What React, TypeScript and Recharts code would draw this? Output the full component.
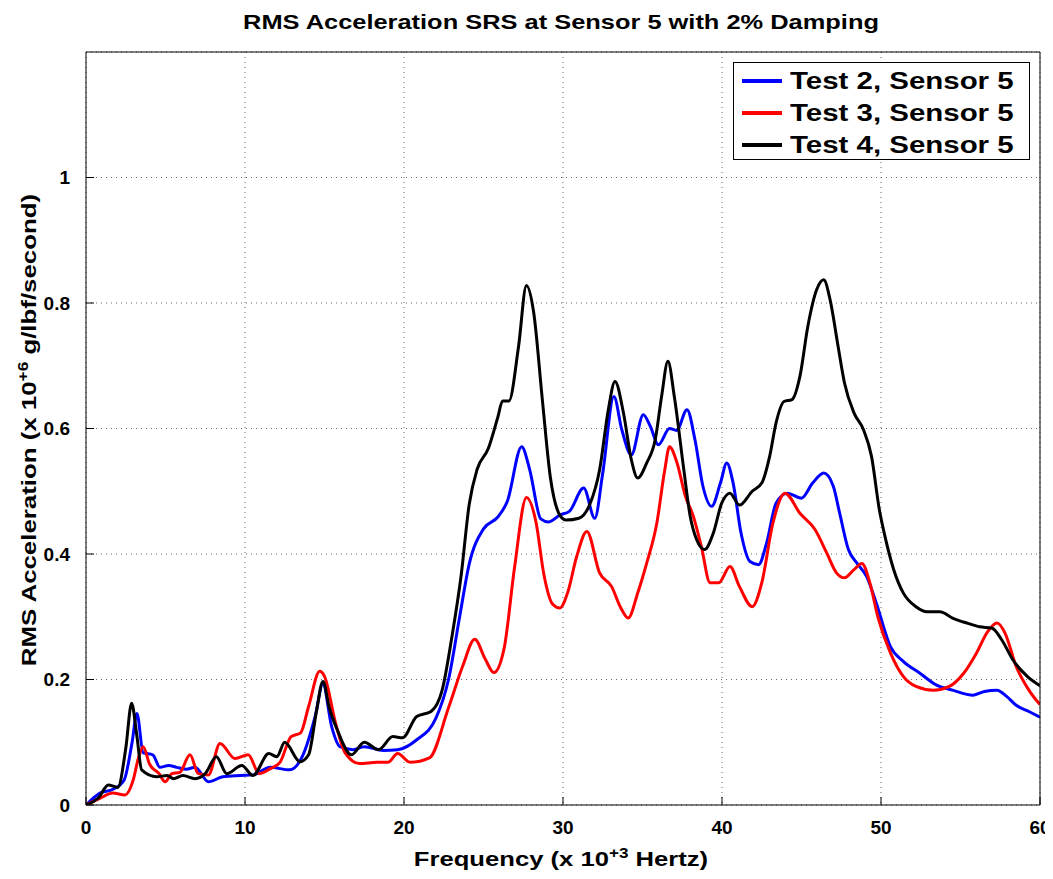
import React from "react";
import { CartesianGrid, Line, LineChart, XAxis, YAxis } from "recharts";

// frequency (kHz), RMS acceleration (x 10^6 g/lbf/s)
const test2: [number, number][] = [
  [0, 0], [0.88, 0.019], [1.7, 0.025], [2.4, 0.04], [2.9, 0.1], [3.2, 0.146], [3.6, 0.083],
  [4.2, 0.08], [4.65, 0.06], [5.2, 0.063], [5.7, 0.06], [6.3, 0.057], [6.86, 0.06], [7.7, 0.037],
  [8.6, 0.045], [9.7, 0.047], [10.5, 0.048], [11.6, 0.06], [12.8, 0.056], [13.6, 0.077], [14.4, 0.14],
  [14.9, 0.193], [15.45, 0.125], [15.97, 0.093], [16.8, 0.088], [17.5, 0.093], [18.7, 0.087],
  [19.6, 0.088], [20.8, 0.104], [22.0, 0.138], [22.8, 0.2], [23.5, 0.3], [24.1, 0.384], [25.0, 0.44],
  [25.9, 0.459], [26.5, 0.484], [27.4, 0.571], [27.9, 0.535], [28.6, 0.456], [29.1, 0.451],
  [29.8, 0.462], [30.4, 0.468], [31.3, 0.505], [32.0, 0.457], [32.5, 0.529], [33.2, 0.651],
  [33.7, 0.598], [34.3, 0.558], [35.05, 0.622], [35.5, 0.603], [36.0, 0.574], [36.7, 0.6],
  [37.15, 0.597], [37.8, 0.63], [38.3, 0.582], [38.8, 0.508], [39.35, 0.476], [39.9, 0.513],
  [40.3, 0.545], [40.7, 0.513], [41.2, 0.433], [41.76, 0.388], [42.3, 0.383], [42.8, 0.417],
  [43.4, 0.481], [44.1, 0.497], [45.0, 0.489], [45.7, 0.513], [46.4, 0.529], [47.0, 0.508],
  [47.4, 0.465], [47.95, 0.407], [48.5, 0.385], [49.1, 0.364], [49.7, 0.322], [50.6, 0.252],
  [51.4, 0.229], [52.45, 0.21], [53.5, 0.191], [54.5, 0.183], [55.8, 0.175], [56.5, 0.181],
  [57.3, 0.183], [57.9, 0.173], [58.5, 0.159], [59.3, 0.149], [60, 0.14],
];

const test3: [number, number][] = [
  [0, 0], [0.84, 0.01], [1.68, 0.019], [2.45, 0.016], [2.97, 0.04], [3.3, 0.075], [3.6, 0.093],
  [4.0, 0.065], [4.6, 0.05], [4.97, 0.037], [5.4, 0.05], [5.9, 0.052], [6.54, 0.08], [7.06, 0.05],
  [7.7, 0.048], [8.43, 0.098], [9.37, 0.074], [10.2, 0.08], [10.9, 0.05], [11.6, 0.058], [12.2, 0.068],
  [12.9, 0.109], [13.5, 0.115], [14.0, 0.157], [14.7, 0.213], [15.0, 0.205], [15.7, 0.13],
  [16.3, 0.083], [17.2, 0.066], [18.3, 0.068], [19.0, 0.068], [19.6, 0.082], [20.4, 0.068],
  [21.6, 0.075], [22.8, 0.155], [23.7, 0.222], [24.45, 0.264], [25.1, 0.233], [25.65, 0.211],
  [26.3, 0.25], [26.95, 0.378], [27.7, 0.49], [28.3, 0.451], [28.8, 0.367], [29.35, 0.32],
  [29.8, 0.314], [30.3, 0.339], [30.86, 0.396], [31.5, 0.436], [32.3, 0.37], [33.06, 0.348],
  [33.6, 0.316], [34.1, 0.298], [34.7, 0.338], [35.26, 0.385], [35.9, 0.449], [36.4, 0.534],
  [36.7, 0.571], [37.15, 0.547], [37.7, 0.492], [38.2, 0.46], [38.7, 0.412], [39.25, 0.354],
  [39.8, 0.354], [40.5, 0.38], [41.1, 0.348], [41.9, 0.316], [42.5, 0.354], [43.2, 0.449],
  [43.96, 0.497], [44.9, 0.465], [45.85, 0.439], [46.6, 0.401], [47.2, 0.37], [47.7, 0.362],
  [48.3, 0.375], [48.8, 0.385], [49.3, 0.354], [49.8, 0.3], [50.6, 0.242], [51.4, 0.205],
  [52.2, 0.189], [53.3, 0.183], [54.3, 0.189], [55.2, 0.21], [56.0, 0.242], [56.7, 0.276],
  [57.3, 0.29], [57.8, 0.274], [58.5, 0.221], [59.3, 0.183], [60, 0.16],
];

const test4: [number, number][] = [
  [0, 0], [0.8, 0.012], [1.4, 0.032], [2.0, 0.028], [2.5, 0.09], [2.87, 0.162], [3.2, 0.11],
  [3.5, 0.056], [4.45, 0.045], [5.1, 0.047], [5.5, 0.042], [6.1, 0.047], [6.86, 0.042], [7.5, 0.05],
  [8.2, 0.077], [8.85, 0.05], [9.8, 0.063], [10.5, 0.047], [11.5, 0.082], [12.0, 0.077], [12.5, 0.1],
  [13.46, 0.069], [14.0, 0.08], [14.5, 0.15], [14.9, 0.197], [15.3, 0.155], [15.8, 0.12], [16.7, 0.08],
  [17.5, 0.1], [18.4, 0.088], [19.3, 0.109], [19.9, 0.107], [20.8, 0.141], [21.7, 0.149],
  [22.4, 0.183], [23.0, 0.266], [23.6, 0.367], [24.1, 0.479], [24.6, 0.535], [25.3, 0.568],
  [25.9, 0.618], [26.2, 0.644], [26.6, 0.644], [27.2, 0.73], [27.7, 0.828], [28.15, 0.786],
  [28.7, 0.646], [29.2, 0.523], [29.8, 0.462], [30.2, 0.454], [31.0, 0.457], [31.7, 0.48],
  [32.3, 0.534], [32.85, 0.63], [33.27, 0.675], [33.8, 0.625], [34.3, 0.55], [34.7, 0.521],
  [35.26, 0.545], [35.8, 0.582], [36.2, 0.651], [36.6, 0.707], [37.0, 0.651], [37.6, 0.534],
  [38.0, 0.46], [38.4, 0.423], [38.9, 0.407], [39.45, 0.433], [39.98, 0.481], [40.5, 0.497],
  [41.1, 0.478], [41.9, 0.5], [42.5, 0.513], [43.0, 0.556], [43.4, 0.609], [43.9, 0.643],
  [44.4, 0.646], [44.9, 0.683], [45.4, 0.763], [45.95, 0.821], [46.4, 0.837], [46.8, 0.805],
  [47.3, 0.731], [47.7, 0.673], [48.3, 0.625], [48.9, 0.598], [49.4, 0.556], [49.9, 0.47],
  [50.25, 0.428], [50.8, 0.375], [51.4, 0.338], [52.2, 0.316], [52.9, 0.308], [53.7, 0.308],
  [54.5, 0.298], [55.4, 0.29], [56.2, 0.284], [56.96, 0.282], [57.6, 0.263], [58.3, 0.231],
  [59.2, 0.205], [60, 0.19],
];

const xTicks = [0, 10, 20, 30, 40, 50, 60];
const yTicks = [0, 0.2, 0.4, 0.6, 0.8, 1];

const toRows = (pts: [number, number][]) => pts.map(([f, v]) => ({ f, v }));

// first series sits on the top/right axes (same domains) so the box gets drawn
const series = [
  { name: "Test 2, Sensor 5", color: "#0000ff", data: toRows(test2), xId: "top", yId: "right" },
  { name: "Test 3, Sensor 5", color: "#ff0000", data: toRows(test3), xId: "bottom", yId: "left" },
  { name: "Test 4, Sensor 5", color: "#000000", data: toRows(test4), xId: "bottom", yId: "left" },
];

const font = "'Liberation Sans', Arial, sans-serif";
const tickStyle = { fontSize: 19, fontWeight: 700, fill: "#000", fontFamily: font };

export default function App() {
  return (
    <div style={{ position: "relative", width: 1045, height: 871, fontFamily: font, fontWeight: 700, background: "#fff" }}>
      <div
        style={{
          position: "absolute", left: 553, top: 14, transform: "translate(-50%, -50%) scaleX(1.21)",
          whiteSpace: "nowrap", fontSize: 21,
        }}
      >
        RMS Acceleration SRS at Sensor 5 with 2% Damping
      </div>

      <LineChart width={1045} height={871} margin={{ top: 14, right: 0, bottom: 34, left: 0 }}>
        <CartesianGrid xAxisId="bottom" yAxisId="left" stroke="#666" strokeDasharray="1 4" />
        <XAxis
          xAxisId="bottom" dataKey="f" type="number" domain={[0, 60]} ticks={xTicks} height={40}
          stroke="#000" tickSize={-8} tickMargin={24} tick={tickStyle} allowDataOverflow
        />
        <XAxis
          xAxisId="top" dataKey="f" orientation="top" type="number" domain={[0, 60]} ticks={xTicks}
          height={30} stroke="#000" tickSize={-8} tick={false} allowDataOverflow
        />
        <YAxis
          yAxisId="left" type="number" domain={[0, 1.2]} ticks={yTicks} width={78}
          stroke="#000" tickSize={-8} tickMargin={24} tick={tickStyle} allowDataOverflow
        />
        <YAxis
          yAxisId="right" orientation="right" type="number" domain={[0, 1.2]} ticks={yTicks}
          width={13} stroke="#000" tickSize={-8} tick={false} allowDataOverflow
        />
        {series.map((s) => (
          <Line
            key={s.name} data={s.data} dataKey="v" name={s.name} type="monotone"
            xAxisId={s.xId} yAxisId={s.yId}
            stroke={s.color} strokeWidth={3} dot={false} isAnimationActive={false}
          />
        ))}
      </LineChart>

      <div
        style={{
          position: "absolute", left: 20, top: 422,
          transform: "translate(-50%, -50%) rotate(-90deg) scaleX(1.23)",
          whiteSpace: "nowrap", fontSize: 21,
        }}
      >
        RMS Acceleration (x 10<sup style={{ fontSize: 14 }}>+6</sup> g/lbf/second)
      </div>

      <div
        style={{
          position: "absolute", left: 553, top: 850, transform: "translate(-50%, -50%) scaleX(1.22)",
          whiteSpace: "nowrap", fontSize: 21,
        }}
      >
        Frequency (x 10<sup style={{ fontSize: 14 }}>+3</sup> Hertz)
      </div>

      <div
        style={{
          position: "absolute", left: 725, top: 54, width: 297, height: 98,
          border: "1px solid #000", background: "#fff", boxSizing: "border-box", padding: "2px 0 0 8px",
        }}
      >
        {series.map((s) => (
          <div key={s.name} style={{ display: "flex", alignItems: "center", height: 32, fontSize: 23 }}>
            <span style={{ display: "inline-block", width: 40, height: 4, background: s.color, marginRight: 8, flex: "none" }} />
            <span style={{ display: "inline-block", transform: "scaleX(1.28)", transformOrigin: "left center", whiteSpace: "nowrap" }}>
              {s.name}
            </span>
          </div>
        ))}
      </div>
    </div>
  );
}
